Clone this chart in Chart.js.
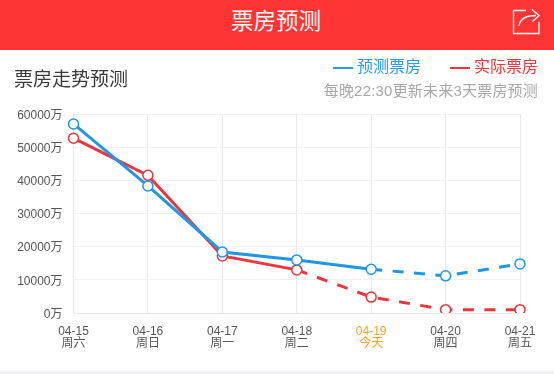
<!DOCTYPE html>
<html lang="zh-CN"><head><meta charset="utf-8">
<script src="https://cdn.jsdelivr.net/npm/chart.js@4"></script>
<style>
html,body{margin:0;padding:0;background:#fff;overflow:hidden}
#wrap{position:relative;width:554px;height:374px;overflow:hidden;font-family:"Liberation Sans","Noto Sans CJK SC",sans-serif}
#chart{position:absolute;left:0;top:0}
.t{position:absolute;white-space:nowrap;line-height:1}
#bar{position:absolute;left:0;top:0;width:554px;height:50px;background:#FF3535}
#foot{position:absolute;left:0;top:371px;width:554px;height:3px;background:#efeff1}
</style></head><body>
<div id="wrap">
<canvas id="chart" width="554" height="374"></canvas>
<div id="bar"></div>
<div class="t" style="left:231px;top:11px;font-size:22.500px;color:#fff">票房预测</div>
<svg style="position:absolute;left:512px;top:8px" width="30" height="28" viewBox="0 0 30 28" fill="none" stroke="#fff" stroke-width="1.3">
<path d="M14 2.500H1.500V25.500H27V14"/><path d="M7 18C8 11 14 7.500 24 7.500"/><path d="M20 1.500L27 7.500L20.500 13.500"/></svg>
<div class="t" style="left:14px;top:70px;font-size:19px;color:#3a3a3a">票房走势预测</div>
<div style="position:absolute;left:333px;top:67px;width:20px;height:1.500px;background:#2B9BE8"></div>
<div class="t" style="left:357px;top:59px;font-size:16px;color:#2B9BE8" id="lg0"></div>
<div style="position:absolute;left:450px;top:67px;width:20px;height:1.500px;background:#F0383F"></div>
<div class="t" style="left:474px;top:59px;font-size:16px;color:#F0383F" id="lg1"></div>
<div class="t" style="right:16px;top:83px;font-size:15px;letter-spacing:.2px;color:#a8a8a8">每晚22:30更新未来3天票房预测</div>
<div id="foot"></div>
</div>
<script>
const dates = ["04-15","04-16","04-17","04-18","04-19","04-20","04-21"];
const weekdays = ["周六","周日","周一","周二","今天","周四","周五"];
const forecast = [57000,38300,18400,16000,13200,11200,14800];
const actual = [52700,41500,17200,13000,4800,1000,1000];
const seriesNames = ["预测票房","实际票房"];
const yTicks = [0,10000,20000,30000,40000,50000,60000];
const todayIndex = 4;
const forecastSolidUntil = 4;
const actualSolidUntil = 3;

document.getElementById('lg0').textContent = seriesNames[0];
document.getElementById('lg1').textContent = seriesNames[1];

const tickFont = {family:'"Liberation Sans","Noto Sans CJK SC",sans-serif',size:12,lineHeight:1};
function ds(label,data,color,solidUntil){
  return {label,data,borderColor:color,backgroundColor:color,borderWidth:3,tension:0,
    pointRadius:5,pointBorderWidth:1.5,pointBackgroundColor:'#fff',pointBorderColor:color,
    segment:{borderDash:c=>c.p0DataIndex>=solidUntil?[11,10.500]:undefined}};
}
new Chart(document.getElementById('chart'),{
  type:'line',
  data:{labels:dates.map((d,i)=>[d,weekdays[i]]),
    datasets:[ds(seriesNames[0],forecast,'#2196E3',forecastSolidUntil),ds(seriesNames[1],actual,'#EE343C',actualSolidUntil)]},
  options:{responsive:false,animation:false,
    layout:{padding:{left:0,right:34,top:114,bottom:0}},
    plugins:{legend:{display:false},title:{display:false},tooltip:{enabled:false}},
    scales:{
      x:{offset:false,
        grid:{color:'#e9e9ec',lineWidth:1,drawTicks:false},
        border:{color:'#e9e9ec'},
        ticks:{autoSkip:false,maxRotation:0,padding:13,font:tickFont,
          color:c=>c.index===todayIndex?'#F5A623':'#555'},
        afterFit(s){s.height=61;}},
      y:{min:0,max:60000,
        afterBuildTicks(s){s.ticks=yTicks.map(v=>({value:v}));},
        grid:{color:'#f2f2f4',lineWidth:1,drawTicks:false},
        border:{color:'#e9e9ec'},
        ticks:{padding:11,labelOffset:1.500,font:tickFont,color:'#555',callback:v=>v+'万'},
        afterFit(s){s.width=73.500;}}
    }
  }
});
</script>
</body></html>
